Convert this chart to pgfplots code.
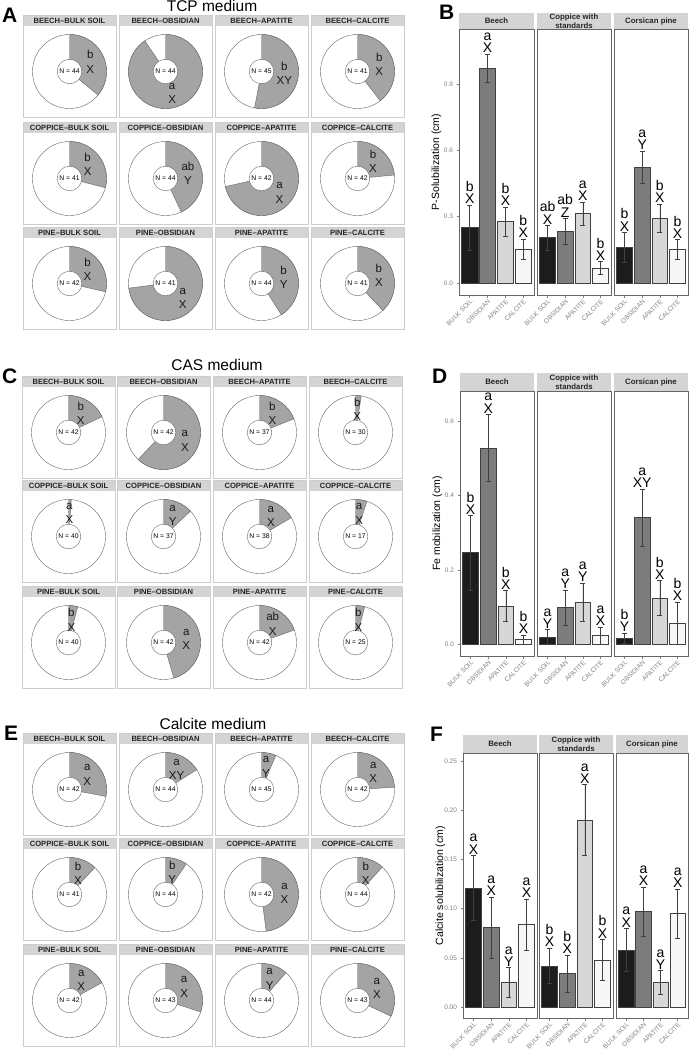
\documentclass[border=0pt]{standalone}
\usepackage{fontspec}
\setmainfont{Liberation Sans}
\usepackage{pgfplots}
\pgfplotsset{compat=1.18}
\definecolor{stripgray}{HTML}{D4D4D4}
\definecolor{cellframe}{HTML}{CDCDCD}
\definecolor{wedgegray}{HTML}{A4A4A4}
\definecolor{cBulk}{HTML}{1C1C1C}
\definecolor{cObs}{HTML}{7C7C7C}
\definecolor{cApa}{HTML}{D7D7D7}
\definecolor{cCal}{HTML}{F7F7F7}
\definecolor{tickgray}{HTML}{808080}
\newcommand\fs[2]{\fontsize{#1}{#2}\selectfont}

% #1 cell left, #2 cell top (px, downward), #3 title, #4 fraction, #5 N, #6 lower letter, #7 upper letter
\newcommand\donut[7]{%
\pgfplotsextra{%
\pgfmathsetmacro\dxl{#1}%
\pgfmathsetmacro\dxr{#1+93}%
\pgfmathsetmacro\dyt{-(#2)}%
\pgfmathsetmacro\dys{-(#2)-11}%
\pgfmathsetmacro\dym{-(#2)-5.5}%
\pgfmathsetmacro\dyb{-(#2)-102}%
\pgfmathsetmacro\dcx{#1+46.5}%
\pgfmathsetmacro\dcy{-(#2)-56.5}%
\pgfmathsetmacro\dtop{\dcy+37}%
\pgfmathsetmacro\dea{90-360*(#4)}%
\pgfmathsetmacro\dma{90-180*(#4)}%
\pgfmathsetmacro\dlx{\dcx+23*cos(\dma)}%
\pgfmathsetmacro\dly{\dcy+23*sin(\dma)}%
\fill[white] (axis cs:\dxl,\dyt) rectangle (axis cs:\dxr,\dyb);
\fill[stripgray] (axis cs:\dxl,\dyt) rectangle (axis cs:\dxr,\dys);
\draw[cellframe, line width=0.8pt] (axis cs:\dxl,\dyt) rectangle (axis cs:\dxr,\dyb);
\node[font=\bfseries\fs{7.6}{8}, text=black!85, inner sep=0pt] at (axis cs:\dcx,\dym) {#3};
\draw[black!60, line width=0.4pt] (axis cs:\dcx,\dcy) circle[radius=37pt];
\filldraw[fill=wedgegray, draw=black!60, line width=0.4pt] (axis cs:\dcx,\dcy) -- (axis cs:\dcx,\dtop) arc[start angle=90, end angle=\dea, radius=37pt] -- cycle;
\filldraw[fill=white, draw=black!60, line width=0.4pt] (axis cs:\dcx,\dcy) circle[radius=12.3pt];
\node[font=\fs{6.8}{7}, inner sep=0pt] at (axis cs:\dcx,\dcy) {N = #5};
\node[font=\fs{11.5}{14.3}, align=center, inner sep=0pt, text=black!90] at (axis cs:\dlx,\dly) {#6\\#7};
}}

\newcommand\onebar[4]{%
\addplot[ybar, bar width=0.9, bar shift=0pt, fill=#1, draw=black!75, line width=0.5pt,
  error bars/.cd, y dir=both, y explicit,
  error bar style={line width=0.55pt, black!75},
  error mark options={rotate=90, mark size=2.6pt, line width=0.55pt, black!75}]
  coordinates {(#2,#3) +- (0,#4)};}
\newcommand\lab[4]{\node[anchor=south, align=center, font=\fs{14}{12.3}, inner sep=1pt] at (axis cs:#1,#2) {#3\\#4};}
\newcommand\strip[2]{%
\fill[stripgray] (rel axis cs:0,1) rectangle ([yshift=#1]rel axis cs:1,1);
\node[font=\bfseries\fs{7.8}{8.6}, align=center, text=black!85] at ([yshift={#1/2}]rel axis cs:0.5,1) {#2};}

\pgfplotsset{
 facet/.style={
  scale only axis, anchor=north west, xmin=0.4, xmax=4.6,
  xtick={1,2,3,4}, xticklabels={BULK SOIL,OBSIDIAN,APATITE,CALCITE},
  xticklabel style={rotate=45, anchor=north east, font=\fs{6.5}{7}, text=tickgray, inner sep=1pt},
  tick align=outside, major tick length=2.5pt, tick style={tickgray, line width=0.5pt},
  axis line style={draw=black!60, line width=0.5pt},
  xtick pos=bottom, ytick pos=left, clip=false,
  /pgf/number format/assume math mode=true,
  yticklabel style={font=\fs{6.5}{7}, text=tickgray, /pgf/number format/fixed, /pgf/number format/fixed zerofill},
  every axis y label/.style={at={(rel axis cs:-0.19,0.5)}, rotate=90, anchor=south, font=\fs{10.5}{11}},
 },
 inner/.style={ytick=\empty},
}

\begin{document}
\begin{tikzpicture}
\useasboundingbox (0,0) rectangle (689pt,-1060pt);
\begin{axis}[at={(0pt,0pt)}, anchor=north west, x=1pt, y=1pt, xmin=0, xmax=689, ymin=-1060, ymax=0, hide axis, clip=false]
% ---------- A: TCP medium
\donut{23}{15}{BEECH–BULK SOIL}{0.36}{44}{b}{X}
\donut{119}{15}{BEECH–OBSIDIAN}{0.906}{44}{a}{X}
\donut{215}{15}{BEECH–APATITE}{0.53}{45}{b}{XY}
\donut{311}{15}{BEECH–CALCITE}{0.395}{41}{b}{X}
\donut{23}{122}{COPPICE–BULK SOIL}{0.29}{41}{b}{X}
\donut{119}{122}{COPPICE–OBSIDIAN}{0.43}{44}{ab}{Y}
\donut{215}{122}{COPPICE–APATITE}{0.715}{42}{a}{X}
\donut{311}{122}{COPPICE–CALCITE}{0.235}{42}{b}{X}
\donut{23}{227}{PINE–BULK SOIL}{0.286}{42}{b}{X}
\donut{119}{227}{PINE–OBSIDIAN}{0.73}{41}{a}{X}
\donut{215}{227}{PINE–APATITE}{0.41}{44}{b}{Y}
\donut{311}{227}{PINE–CALCITE}{0.38}{41}{b}{X}
% ---------- C: CAS medium
\donut{22}{376}{BEECH–BULK SOIL}{0.18}{42}{b}{X}
\donut{117}{376}{BEECH–OBSIDIAN}{0.62}{42}{a}{X}
\donut{213}{376}{BEECH–APATITE}{0.19}{37}{b}{X}
\donut{309}{376}{BEECH–CALCITE}{0.025}{30}{b}{X}
\donut{22}{480}{COPPICE–BULK SOIL}{0.012}{40}{a}{X}
\donut{117}{480}{COPPICE–OBSIDIAN}{0.13}{37}{a}{Y}
\donut{213}{480}{COPPICE–APATITE}{0.165}{38}{a}{X}
\donut{309}{480}{COPPICE–CALCITE}{0.05}{17}{a}{X}
\donut{22}{586}{PINE–BULK SOIL}{0.04}{40}{b}{X}
\donut{117}{586}{PINE–OBSIDIAN}{0.455}{42}{a}{X}
\donut{213}{586}{PINE–APATITE}{0.195}{42}{ab}{X}
\donut{309}{586}{PINE–CALCITE}{0.04}{25}{b}{X}
% ---------- E: Calcite medium
\donut{23}{733}{BEECH–BULK SOIL}{0.28}{42}{a}{X}
\donut{119}{733}{BEECH–OBSIDIAN}{0.16}{44}{a}{XY}
\donut{215}{733}{BEECH–APATITE}{0.063}{45}{a}{Y}
\donut{311}{733}{BEECH–CALCITE}{0.24}{42}{a}{X}
\donut{23}{838}{COPPICE–BULK SOIL}{0.12}{41}{b}{X}
\donut{119}{838}{COPPICE–OBSIDIAN}{0.095}{44}{b}{Y}
\donut{215}{838}{COPPICE–APATITE}{0.48}{42}{a}{X}
\donut{311}{838}{COPPICE–CALCITE}{0.117}{44}{b}{X}
\donut{23}{944}{PINE–BULK SOIL}{0.17}{42}{a}{X}
\donut{119}{944}{PINE–OBSIDIAN}{0.30}{43}{a}{X}
\donut{215}{944}{PINE–APATITE}{0.115}{44}{a}{Y}
\donut{311}{944}{PINE–CALCITE}{0.32}{43}{a}{X}
% titles and panel letters
\node[font=\fs{15.5}{16}, anchor=base] at (axis cs:212,-12) {TCP medium};
\node[font=\fs{15.5}{16}, anchor=base] at (axis cs:217,-370) {CAS medium};
\node[font=\fs{15.5}{16}, anchor=base] at (axis cs:213,-729) {Calcite medium};
\node[font=\bfseries\fs{21}{22}, anchor=base west, inner sep=0pt] at (axis cs:2,-22) {A};
\node[font=\bfseries\fs{21}{22}, anchor=base west, inner sep=0pt] at (axis cs:2,-383) {C};
\node[font=\bfseries\fs{21}{22}, anchor=base west, inner sep=0pt] at (axis cs:4,-740) {E};
\node[font=\bfseries\fs{21}{22}, anchor=base west, inner sep=0pt] at (axis cs:439,-20) {B};
\node[font=\bfseries\fs{21}{22}, anchor=base west, inner sep=0pt] at (axis cs:432,-383) {D};
\node[font=\bfseries\fs{21}{22}, anchor=base west, inner sep=0pt] at (axis cs:430,-741) {F};
\end{axis}

% ================= B =================
\begin{axis}[facet, at={(459pt,-29pt)}, width=75pt, height=266pt, ymin=-0.054, ymax=1.149,
  ytick={0,0.3,0.6,0.9}, yticklabel style={/pgf/number format/precision=1}, ylabel={P-Solubilization (cm)}]
\onebar{cBulk}{1}{0.252}{0.102}
\onebar{cObs}{2}{0.972}{0.064}
\onebar{cApa}{3}{0.279}{0.066}
\onebar{cCal}{4}{0.154}{0.046}
\lab{1}{0.354}{b}{X}\lab{2}{1.036}{a}{X}\lab{3}{0.345}{b}{X}\lab{4}{0.200}{b}{X}
\strip{16pt}{Beech}
\end{axis}
\begin{axis}[facet, inner, at={(537pt,-29pt)}, width=74pt, height=266pt, ymin=-0.054, ymax=1.149]
\onebar{cBulk}{1}{0.205}{0.056}
\onebar{cObs}{2}{0.235}{0.058}
\onebar{cApa}{3}{0.315}{0.052}
\onebar{cCal}{4}{0.068}{0.029}
\lab{1}{0.261}{ab}{X}\lab{2}{0.293}{ab}{Z}\lab{3}{0.367}{a}{X}\lab{4}{0.097}{b}{X}
\strip{16pt}{Coppice with\\standards}
\end{axis}
\begin{axis}[facet, inner, at={(614pt,-29pt)}, width=74pt, height=266pt, ymin=-0.054, ymax=1.149]
\onebar{cBulk}{1}{0.161}{0.068}
\onebar{cObs}{2}{0.525}{0.073}
\onebar{cApa}{3}{0.294}{0.063}
\onebar{cCal}{4}{0.151}{0.045}
\lab{1}{0.229}{b}{X}\lab{2}{0.598}{a}{Y}\lab{3}{0.357}{b}{X}\lab{4}{0.196}{b}{X}
\strip{16pt}{Corsican pine}
\end{axis}

% ================= D =================
\begin{axis}[facet, at={(460pt,-391pt)}, width=74pt, height=265pt, ymin=-0.032, ymax=0.681,
  ytick={0,0.2,0.4,0.6}, yticklabel style={/pgf/number format/precision=1}, ylabel={Fe mobilization (cm)}]
\onebar{cBulk}{1}{0.246}{0.100}
\onebar{cObs}{2}{0.528}{0.090}
\onebar{cApa}{3}{0.103}{0.041}
\onebar{cCal}{4}{0.012}{0.013}
\lab{1}{0.346}{b}{X}\lab{2}{0.618}{a}{X}\lab{3}{0.144}{b}{X}\lab{4}{0.025}{b}{X}
\strip{18pt}{Beech}
\end{axis}
\begin{axis}[facet, inner, at={(537pt,-391pt)}, width=74pt, height=265pt, ymin=-0.032, ymax=0.681]
\onebar{cBulk}{1}{0.019}{0.020}
\onebar{cObs}{2}{0.098}{0.048}
\onebar{cApa}{3}{0.113}{0.051}
\onebar{cCal}{4}{0.023}{0.023}
\lab{1}{0.039}{a}{Y}\lab{2}{0.146}{a}{Y}\lab{3}{0.164}{a}{Y}\lab{4}{0.046}{a}{X}
\strip{18pt}{Coppice with\\standards}
\end{axis}
\begin{axis}[facet, inner, at={(614pt,-391pt)}, width=74pt, height=265pt, ymin=-0.032, ymax=0.681]
\onebar{cBulk}{1}{0.016}{0.014}
\onebar{cObs}{2}{0.340}{0.077}
\onebar{cApa}{3}{0.124}{0.047}
\onebar{cCal}{4}{0.056}{0.057}
\lab{1}{0.030}{b}{Y}\lab{2}{0.417}{a}{XY}\lab{3}{0.171}{b}{X}\lab{4}{0.113}{b}{X}
\strip{18pt}{Corsican pine}
\end{axis}

% ================= F =================
\begin{axis}[facet, at={(463pt,-753pt)}, width=74pt, height=265pt, ymin=-0.011, ymax=0.258,
  ytick={0,0.05,0.10,0.15,0.20,0.25}, yticklabel style={/pgf/number format/precision=2}, ylabel={Calcite solubilization (cm)}]
\onebar{cBulk}{1}{0.121}{0.033}
\onebar{cObs}{2}{0.081}{0.031}
\onebar{cApa}{3}{0.025}{0.015}
\onebar{cCal}{4}{0.084}{0.026}
\lab{1}{0.154}{a}{X}\lab{2}{0.112}{a}{X}\lab{3}{0.040}{a}{Y}\lab{4}{0.110}{a}{X}
\strip{18pt}{Beech}
\end{axis}
\begin{axis}[facet, inner, at={(539pt,-753pt)}, width=74pt, height=265pt, ymin=-0.011, ymax=0.258]
\onebar{cBulk}{1}{0.042}{0.018}
\onebar{cObs}{2}{0.034}{0.019}
\onebar{cApa}{3}{0.190}{0.036}
\onebar{cCal}{4}{0.048}{0.021}
\lab{1}{0.060}{b}{X}\lab{2}{0.053}{b}{X}\lab{3}{0.226}{a}{X}\lab{4}{0.069}{b}{X}
\strip{18pt}{Coppice with\\standards}
\end{axis}
\begin{axis}[facet, inner, at={(616pt,-753pt)}, width=72pt, height=265pt, ymin=-0.011, ymax=0.258]
\onebar{cBulk}{1}{0.058}{0.022}
\onebar{cObs}{2}{0.097}{0.025}
\onebar{cApa}{3}{0.025}{0.012}
\onebar{cCal}{4}{0.095}{0.025}
\lab{1}{0.080}{a}{X}\lab{2}{0.122}{a}{X}\lab{3}{0.037}{a}{Y}\lab{4}{0.120}{a}{X}
\strip{18pt}{Corsican pine}
\end{axis}
\end{tikzpicture}
\end{document}
